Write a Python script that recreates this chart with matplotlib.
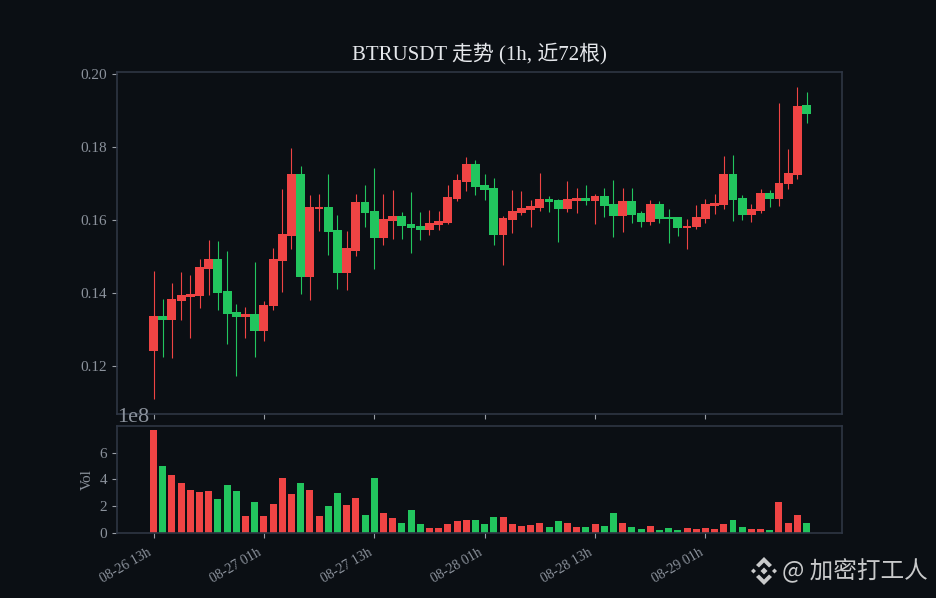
import matplotlib
matplotlib.use('Agg')
import matplotlib.pyplot as plt
from matplotlib.patches import Polygon
from matplotlib.ticker import ScalarFormatter

plt.rcParams['font.family'] = ['Liberation Serif', 'Noto Sans CJK SC', 'DejaVu Sans']

opens = [.1242, .1337, .1326, .1378, .1389, .1392, .1466, .1493, .1406, .1348, .1334, .1342,
         .1296, .1364, .1488, .1556, .1726, .1444, .1630, .1636, .1573, .1455, .1515, .1649,
         .1625, .1551, .1597, .1611, .1589, .1584, .1573, .1586, .1592, .1658, .1704, .1753,
         .1696, .1688, .1559, .1600, .1619, .1627, .1633, .1658, .1655, .1630, .1652, .1660,
         .1652, .1666, .1644, .1611, .1652, .1619, .1595, .1644, .1608, .1608, .1578, .1581,
         .1603, .1638, .1641, .1726, .1660, .1614, .1625, .1674, .1658, .1699, .1723, .1915]
highs = [.1460, .1384, .1427, .1458, .1449, .1493, .1545, .1543, .1515, .1370, .1362, .1485,
         .1378, .1523, .1685, .1797, .1748, .1669, .1671, .1726, .1614, .1570, .1671, .1696,
         .1743, .1671, .1682, .1622, .1677, .1622, .1627, .1625, .1696, .1726, .1773, .1764,
         .1726, .1715, .1611, .1682, .1680, .1655, .1729, .1666, .1658, .1707, .1688, .1696,
         .1671, .1688, .1710, .1688, .1688, .1625, .1655, .1652, .1630, .1608, .1603, .1641,
         .1658, .1671, .1775, .1778, .1669, .1644, .1685, .1682, .1921, .1795, .1964, .1951]
lows = [.1110, .1225, .1222, .1326, .1277, .1359, .1395, .1353, .1260, .1173, .1277, .1225,
        .1269, .1353, .1403, .1521, .1397, .1381, .1570, .1504, .1411, .1408, .1501, .1581,
        .1466, .1532, .1548, .1548, .1510, .1545, .1559, .1573, .1589, .1652, .1680, .1669,
        .1655, .1532, .1477, .1564, .1614, .1581, .1625, .1622, .1540, .1622, .1619, .1641,
        .1589, .1608, .1553, .1567, .1592, .1581, .1586, .1592, .1537, .1556, .1521, .1575,
        .1592, .1616, .1630, .1597, .1600, .1595, .1619, .1636, .1638, .1685, .1712, .1866]
closes = [.1337, .1326, .1384, .1395, .1397, .1471, .1493, .1400, .1342, .1334, .1342, .1296,
          .1367, .1493, .1562, .1726, .1444, .1636, .1636, .1567, .1455, .1523, .1649, .1619,
          .1551, .1603, .1611, .1584, .1578, .1573, .1592, .1597, .1663, .1710, .1753, .1690,
          .1682, .1559, .1606, .1625, .1633, .1638, .1658, .1649, .1630, .1658, .1660, .1652,
          .1666, .1638, .1611, .1652, .1614, .1595, .1644, .1603, .1603, .1578, .1584, .1608,
          .1644, .1647, .1726, .1655, .1614, .1630, .1674, .1658, .1701, .1729, .1912, .1890]
volumes = [7.71, 5.0, 4.32, 3.72, 3.19, 3.04, 3.12, 2.51, 3.57, 3.12, 1.23, 2.29,
           1.23, 2.14, 4.10, 2.89, 3.72, 3.19, 1.23, 1.98, 2.96, 2.06, 2.59, 1.31,
           4.10, 1.46, 1.08, .70, 1.68, .63, .33, .33, .63, .85, .93, .93,
           .63, 1.16, 1.16, .63, .48, .55, .70, .40, .85, .70, .40, .40,
           .63, .48, 1.46, .70, .40, .25, .48, .18, .33, .18, .33, .25,
           .33, .25, .63, .93, .40, .25, .25, .18, 2.29, .70, 1.31, .70]
tick_pos = [0, 12, 24, 36, 48, 60]
tick_labels = ['08-26 13h', '08-27 01h', '08-27 13h', '08-28 01h', '08-28 13h', '08-29 01h']

BG = '#0b0f14'
EDGE = '#2e3644'
TXT = '#8b929c'
RED = '#ef4444'
GREEN = '#22c55e'

fig = plt.figure(figsize=(9.36, 5.98), dpi=100, facecolor=BG)
W, H = 936.0, 598.0
ax = fig.add_axes([117 / W, 1 - 414 / H, 725 / W, 342 / H], facecolor=BG)
ax2 = fig.add_axes([117 / W, 1 - 532.5 / H, 725 / W, 106.5 / H], facecolor=BG, sharex=ax)

xs = list(range(len(opens)))
colors = [RED if c >= o else GREEN for o, c in zip(opens, closes)]

ax.vlines(xs, lows, highs, colors=colors, linewidth=0.8, zorder=2)
ax.bar(xs, [c - o for o, c in zip(opens, closes)], bottom=opens, width=0.96, color=colors, linewidth=0, zorder=3)
ax2.bar(xs, [v * 1e8 for v in volumes], width=0.76, color=colors, linewidth=0)

ax.set_xlim(-3.97, 74.85)
ax.set_ylim(0.1068, 0.2006)
ax.set_yticks([0.12, 0.14, 0.16, 0.18, 0.20])
ax.set_yticklabels(['0.12', '0.14', '0.16', '0.18', '0.20'])
ax2.set_ylim(0, 8.0e8)
ax2.set_yticks([0, 2e8, 4e8, 6e8])
fmt = ScalarFormatter(useMathText=False)
ax2.yaxis.set_major_formatter(fmt)
ax2.ticklabel_format(axis='y', style='sci', scilimits=(0, 0))
ax2.set_xticks(tick_pos)
ax2.set_xticklabels(tick_labels, rotation=30, ha='right', color=TXT)
ax.tick_params(axis='x', labelbottom=False)
ax2.set_ylabel('Vol', color=TXT, fontsize=11, labelpad=4)
ax2.yaxis.get_offset_text().set_color(TXT)
ax2.yaxis.get_offset_text().set_fontsize(16)

for a in (ax, ax2):
    a.tick_params(colors=TXT, length=3.5, width=0.8, color='#9a9fa6')
    a.tick_params(axis='y', labelsize=11)
    a.tick_params(axis='x', labelsize=10, pad=6)
    for s in a.spines.values():
        s.set_color(EDGE)
        s.set_linewidth(1.2)

ax.set_title('BTRUSDT 走势 (1h, 近72根)', color='#e5e7eb', fontsize=15, pad=9)

# watermark, logo drawn in pixel space
wm = '#c9cacb'
def logo_piece(pts):
    return Polygon([(x / W, 1 - y / H) for x, y in pts], closed=True, transform=fig.transFigure,
                   facecolor=wm, edgecolor='none')
for cx, cy, r in [(753.5, 571, 2.5), (774.5, 571, 2.5), (764, 571, 3.5)]:
    fig.add_artist(logo_piece([(cx, cy - r), (cx + r, cy), (cx, cy + r), (cx - r, cy)]))
for pts in ([(764, 557), (772, 565), (769, 567.5), (764, 562.5), (759, 567.5), (756, 565)],
            [(764, 585), (772, 577), (769, 574.5), (764, 579.5), (759, 574.5), (756, 577)]):
    fig.add_artist(logo_piece(pts))
fig.text(782.5 / W, 1 - 571 / H, '@ 加密打工人', color=wm, fontsize=17, va='center', ha='left',
         family=['Noto Sans CJK SC', 'DejaVu Sans'])

fig.savefig('out.png', dpi=100, facecolor=BG)
